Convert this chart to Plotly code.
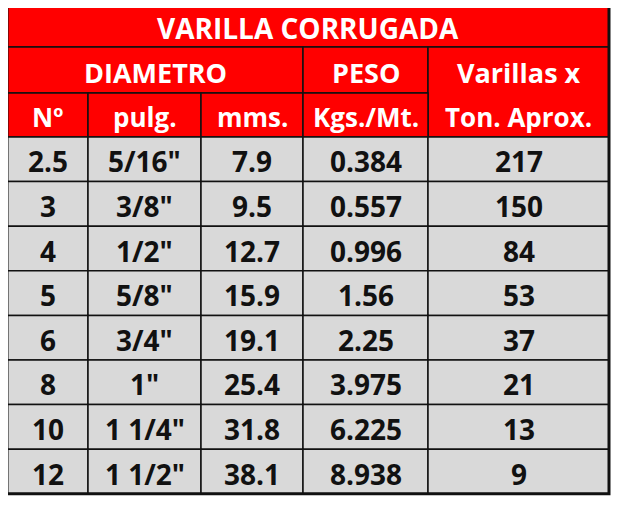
import plotly.graph_objects as go

title = "VARILLA CORRUGADA"
group_headers = ["DIAMETRO", "PESO", "Varillas x"]
sub_headers = ["Nº", "pulg.", "mms.", "Kgs./Mt.", "Ton. Aprox."]

numero = ["2.5", "3", "4", "5", "6", "8", "10", "12"]
pulgadas = ['5/16"', '3/8"', '1/2"', '5/8"', '3/4"', '1"', '1 1/4"', '1 1/2"']
milimetros = ["7.9", "9.5", "12.7", "15.9", "19.1", "25.4", "31.8", "38.1"]
peso = ["0.384", "0.557", "0.996", "1.56", "2.25", "3.975", "6.225", "8.938"]
varillas = ["217", "150", "84", "53", "37", "21", "13", "9"]

RED = "#ff0000"
GREY = "#d9d9d9"
FONT = "Open Sans"

# layout in pixel space (axes mapped 1:1 to the page, body has 8px margin)
xs = [7, 88, 201, 303, 428, 609]
top = 4
hrow = [47, 93, 137]
row_h = 44.6

fig = go.Figure()
shapes = []
notes = []


def label(x, y, text, color, size=28):
    notes.append(dict(x=x, y=y + 2, text=text, showarrow=False,
                      font=dict(family=FONT, size=size, color=color, weight="bold"),
                      xanchor="center", yanchor="middle"))


def cell(x0, x1, y0, y1, fill, text, color, size=28):
    shapes.append(dict(type="rect", x0=x0, x1=x1, y0=y0, y1=y1, fillcolor=fill,
                       line=dict(color="#111111", width=1.5), layer="below"))
    if text:
        label((x0 + x1) / 2, (y0 + y1) / 2, text, color, size)


# title row
cell(xs[0], xs[5], top, hrow[0], RED, title, "white", 28)
# group headers
cell(xs[0], xs[3], hrow[0], hrow[1], RED, group_headers[0], "white", 27)
cell(xs[3], xs[4], hrow[0], hrow[1], RED, group_headers[1], "white", 27)
cell(xs[4], xs[5], hrow[0], hrow[2], RED, "", "white")
label((xs[4] + xs[5]) / 2, (hrow[0] + hrow[1]) / 2, group_headers[2], "white", 27)
# sub headers
for i in range(4):
    cell(xs[i], xs[i + 1], hrow[1], hrow[2], RED, sub_headers[i], "white", 26)
label((xs[4] + xs[5]) / 2, (hrow[1] + hrow[2]) / 2, sub_headers[4], "white", 26)

# body
columns = [numero, pulgadas, milimetros, peso, varillas]
for r in range(len(numero)):
    y0 = hrow[2] + r * row_h
    for c, col in enumerate(columns):
        cell(xs[c], xs[c + 1], y0, y0 + row_h, GREY, col[r], "#111111", 28)

# heavy outer frame
shapes.append(dict(type="rect", x0=xs[0], x1=xs[5], y0=top, y1=hrow[2] + len(numero) * row_h,
                   line=dict(color="#111111", width=3), fillcolor="rgba(0,0,0,0)"))

fig.update_layout(
    width=611, height=497,
    margin=dict(l=0, r=0, t=0, b=0),
    paper_bgcolor="white", plot_bgcolor="white",
    xaxis=dict(range=[8, 619], visible=False, fixedrange=True),
    yaxis=dict(range=[505, 8], visible=False, fixedrange=True),
    shapes=shapes, annotations=notes, showlegend=False,
)
fig.write_html("out.html")
